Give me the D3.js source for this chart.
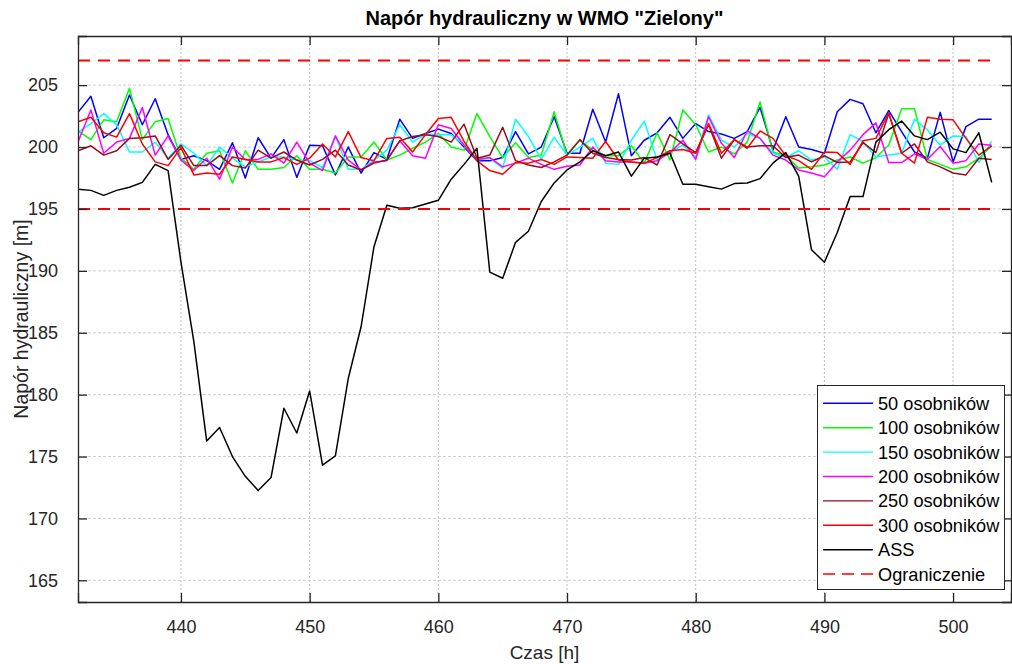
<!DOCTYPE html>
<html><head><meta charset="utf-8">
<script src="https://cdn.jsdelivr.net/npm/d3@7"></script>
<style>
html,body{margin:0;padding:0;background:#fff;}
svg text{font-family:"Liberation Sans",Arial,Helvetica,sans-serif;}
</style></head>
<body><svg id="c" width="1012" height="664"></svg>
<script>
const hours = d3.range(432, 504);
const xTicks = [440, 450, 460, 470, 480, 490, 500];
const yTicks = [165, 170, 175, 180, 185, 190, 195, 200, 205];
const limits = [207, 195];
const seriesNames = ["50 osobników","100 osobników","150 osobników","200 osobników","250 osobników","300 osobników","ASS"];
const seriesColors = ["#0000ff","#00ff00","#00ffff","#ff00ff","#9b0a1e","#ff0000","#000000"];

const s50 = [202.8,204.1,200.75,201.5,204.2,201.8,203.9,201.0,199.0,199.3,198.9,198.2,200.35,197.5,200.75,199.1,200.6,197.55,200.15,200.1,197.75,200.0,197.9,199.55,199.0,202.25,200.7,201.1,201.45,201.1,200.0,198.9,198.9,199.15,201.25,199.45,200.0,202.45,199.5,199.5,203.05,200.4,204.3,199.3,200.55,201.15,202.4,200.7,201.9,201.25,201.05,200.7,201.25,203.2,199.75,202.45,200.0,199.8,199.5,202.85,203.85,203.5,201.15,202.95,201.25,199.6,199.1,202.8,198.8,201.65,202.25,202.25];
const s100 = [201.3,200.6,202.2,202.05,204.75,200.6,202.05,202.3,199.1,198.2,199.5,199.7,197.1,199.7,198.2,198.2,198.35,199.3,198.2,198.2,197.9,199.2,199.2,200.4,198.95,199.35,199.9,200.4,201.1,200.0,199.75,202.7,200.85,199.15,200.35,199.15,199.35,202.85,199.35,200.55,199.75,199.3,199.3,200.1,198.7,201.15,198.95,203.0,201.8,199.6,200.0,199.45,200.4,203.65,199.6,199.3,198.3,198.4,198.55,198.95,199.2,198.7,199.15,200.15,203.1,203.1,199.0,198.6,198.2,198.4,199.1,200.1];
const s150 = [201.2,201.9,202.7,201.8,199.6,199.6,200.4,199.1,200.25,199.5,198.5,200.0,199.1,198.4,198.8,199.2,199.2,198.95,198.9,198.35,200.9,198.2,198.2,198.95,199.75,201.8,200.4,201.05,201.0,201.0,200.15,198.95,199.1,198.3,202.25,200.85,199.0,200.8,199.35,200.0,200.7,198.7,198.6,200.55,202.1,198.95,199.6,200.15,199.2,202.6,200.55,200.0,201.1,200.7,199.5,199.15,199.7,198.95,199.2,198.2,201.0,200.45,199.2,199.35,199.5,202.25,201.4,200.15,200.9,200.85,198.75,200.45];
const s200 = [200.4,203.0,199.5,200.4,200.7,203.2,199.35,200.9,198.95,198.1,199.1,197.4,200.0,199.0,199.0,199.45,198.7,200.4,198.7,198.1,200.9,198.95,198.15,198.8,198.9,200.5,199.3,199.1,201.8,201.5,200.15,199.0,199.15,198.4,198.7,199.1,198.6,198.2,198.45,198.55,200.0,198.9,198.8,198.8,198.7,198.9,199.55,200.55,199.0,202.45,200.3,199.15,201.3,200.7,199.35,198.95,198.15,197.9,197.6,198.8,199.75,201.0,201.95,198.75,198.75,199.45,199.0,200.05,198.7,198.9,200.25,200.15];
const s250 = [199.7,200.1,199.35,199.7,200.7,200.75,200.9,199.0,200.15,198.5,198.5,199.3,198.5,198.3,199.75,199.1,199.6,198.95,198.55,199.0,199.75,198.55,198.15,198.7,198.95,200.5,200.85,201.0,200.85,200.4,201.85,199.1,199.35,201.6,198.9,198.55,198.35,198.8,199.35,200.6,199.5,199.15,199.0,198.95,199.15,198.55,201.0,200.25,199.55,201.8,199.1,200.6,200.0,200.1,200.1,199.15,199.35,198.8,199.3,198.75,198.8,200.35,199.55,202.7,199.5,200.25,198.8,198.4,197.9,197.75,199.1,199.0];
const s300 = [202.05,202.4,201.15,200.8,202.7,200.25,198.8,198.5,199.95,197.75,197.9,197.8,199.2,199.0,198.8,198.8,199.15,198.6,199.1,200.25,199.2,201.25,199.15,198.9,200.7,200.8,199.6,201.0,202.3,202.4,200.45,198.9,198.1,197.8,198.75,198.7,199.0,198.6,199.2,199.15,199.1,200.45,198.95,198.8,198.7,199.15,199.7,199.8,199.5,201.9,199.5,200.6,199.9,201.3,200.7,199.3,198.9,198.2,199.6,199.55,198.6,200.5,200.7,202.75,199.5,198.7,202.4,202.25,202.2,200.7,199.35,200.1];
const sASS = [196.6,196.5,196.1,196.5,196.75,197.15,198.6,198.1,190.7,184.3,176.25,177.35,175.0,173.4,172.25,173.3,178.9,176.9,180.3,174.3,175.05,181.3,185.5,191.95,195.3,195.05,195.1,195.4,195.7,197.4,198.6,199.9,189.9,189.4,192.3,193.2,195.6,197.1,198.15,198.8,199.7,199.3,199.6,197.65,199.1,199.2,199.5,197.0,197.0,196.8,196.6,197.05,197.1,197.45,198.7,199.55,197.65,191.7,190.7,193.1,196.0,196.0,200.4,201.4,202.1,200.9,200.6,201.2,199.85,199.55,201.15,197.15];
const allSeries = [s50, s100, s150, s200, s250, s300, sASS];

const L = 78, R = 1011, T = 36, B = 602;
const x = d3.scaleLinear().domain([432, 504.5]).range([L, R]);
const y = d3.scaleLinear().domain([163.25, 208.97]).range([B, T]);
const svg = d3.select("#c");
const axCol = "#262626";

// grid
const g = svg.append("g");
g.selectAll(".vg").data(xTicks).join("line")
  .attr("x1", d => x(d)).attr("x2", d => x(d)).attr("y1", T).attr("y2", B)
  .attr("stroke", "#bdbdbd").attr("stroke-width", 1).attr("stroke-dasharray", "2,2");
g.selectAll(".hg").data(yTicks).join("line")
  .attr("x1", L).attr("x2", R).attr("y1", d => y(d)).attr("y2", d => y(d))
  .attr("stroke", "#cfcfcf").attr("stroke-width", 1).attr("stroke-dasharray", "3,2");

// series
const line = d3.line().x((d, i) => x(hours[i])).y(d => y(d));
svg.append("clipPath").attr("id", "clp").append("rect")
  .attr("x", L).attr("y", T).attr("width", R - L).attr("height", B - T);
const pg = svg.append("g").attr("clip-path", "url(#clp)");
allSeries.forEach((s, k) => {
  pg.append("path").datum(s).attr("d", line).attr("fill", "none")
    .attr("stroke", seriesColors[k]).attr("stroke-width", 1.5).attr("stroke-linejoin", "round");
});
limits.forEach(v => {
  pg.append("line").attr("x1", x(432)).attr("x2", x(503)).attr("y1", y(v)).attr("y2", y(v))
    .attr("stroke", "#ff0000").attr("stroke-width", 2).attr("stroke-dasharray", "12,8");
});

// axes box
const xb = d3.axisBottom(x).tickValues(xTicks).tickSize(-9).tickPadding(18).tickFormat(d3.format("d"));
const xt = d3.axisTop(x).tickValues(xTicks).tickSize(-9).tickFormat("");
const yl = d3.axisLeft(y).tickValues(yTicks).tickSize(-9).tickPadding(20).tickFormat(d3.format("d"));
const yr = d3.axisRight(y).tickValues(yTicks).tickSize(-9).tickFormat("");
function style(sel){
  sel.select(".domain").attr("stroke", axCol).attr("stroke-width", 1.3);
  sel.selectAll(".tick line").attr("stroke", axCol).attr("stroke-width", 1.3);
  sel.selectAll(".tick text").attr("fill", axCol).attr("font-size", 18)
    .attr("font-family", "'Liberation Sans',Arial,sans-serif");
}
svg.append("g").attr("transform", `translate(0,${B})`).call(xb).call(style);
svg.append("g").attr("transform", `translate(0,${T})`).call(xt).call(style);
svg.append("g").attr("transform", `translate(${L},0)`).call(yl).call(style);
svg.append("g").attr("transform", `translate(${R},0)`).call(yr).call(style);

// labels
svg.append("text").attr("x", (L + R) / 2).attr("y", 25).attr("text-anchor", "middle")
  .attr("font-size", 20).attr("font-weight", "bold").attr("fill", "#000")
  .text('Napór hydrauliczny w WMO "Zielony"');
svg.append("text").attr("x", (L + R) / 2).attr("y", 659).attr("text-anchor", "middle")
  .attr("font-size", 19).attr("fill", axCol).text("Czas [h]");
svg.append("text").attr("transform", `translate(28,${(T + B) / 2}) rotate(-90)`).attr("text-anchor", "middle")
  .attr("font-size", 19.5).attr("fill", axCol).text("Napór hydrauliczny [m]");

// legend
const lg = svg.append("g");
lg.append("rect").attr("x", 817.5).attr("y", 385.5).attr("width", 187).attr("height", 204)
  .attr("fill", "#fff").attr("stroke", axCol).attr("stroke-width", 1);
const legNames = seriesNames.concat(["Ograniczenie"]);
const legColors = seriesColors.concat(["#ff0000"]);
legNames.forEach((n, i) => {
  const yy = 403.3 + i * 24.4;
  lg.append("line").attr("x1", 823).attr("x2", 873).attr("y1", yy).attr("y2", yy)
    .attr("stroke", legColors[i]).attr("stroke-width", i === 7 ? 1.5 : 1.4)
    .attr("stroke-dasharray", i === 7 ? "12,7" : null);
  lg.append("text").attr("x", 878).attr("y", yy).attr("dy", "0.36em")
    .attr("font-size", 18.2).attr("fill", "#000").text(n);
});
</script></body></html>
